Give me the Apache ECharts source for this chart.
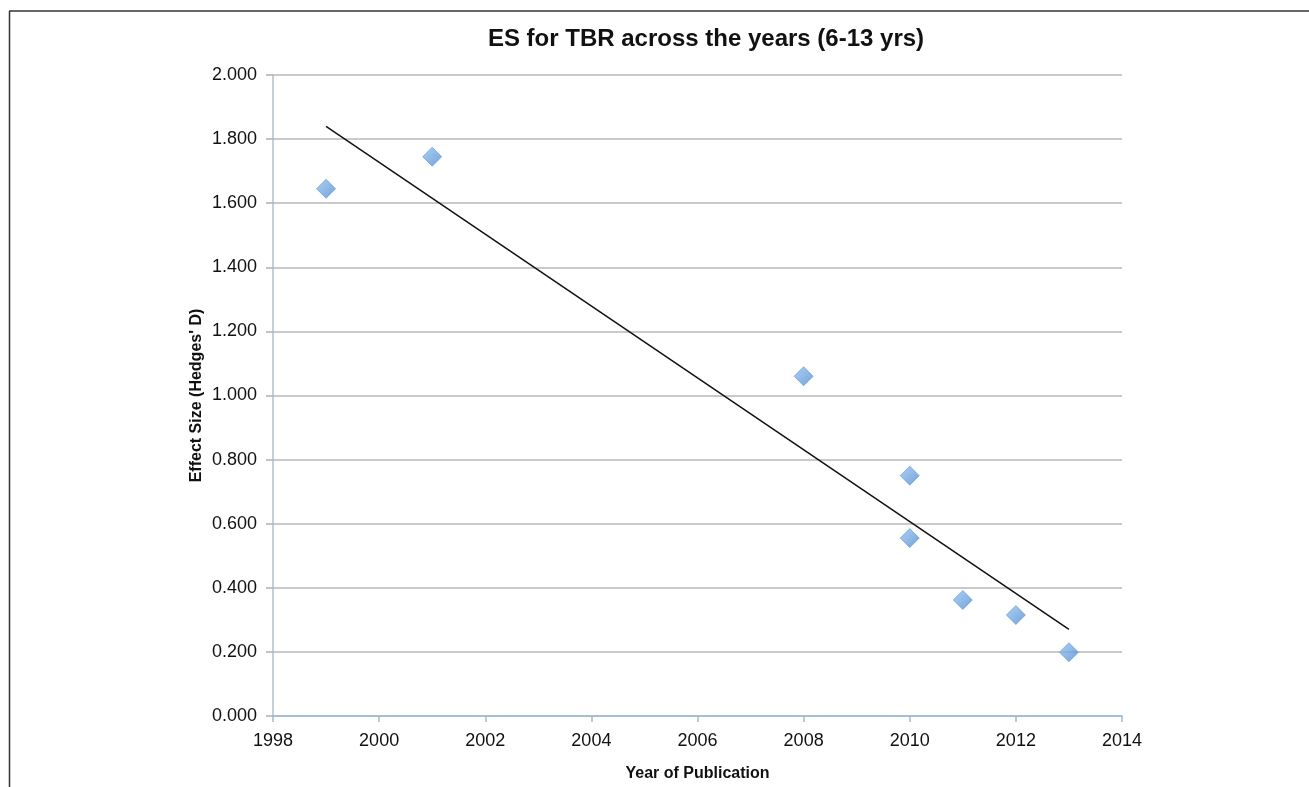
<!DOCTYPE html>
<html>
<head>
<meta charset="utf-8">
<script src="https://cdn.jsdelivr.net/npm/echarts@6/dist/echarts.min.js"></script>
<style>
html,body{margin:0;padding:0;background:#fff;}
#c{width:1309px;height:787px;}
</style>
</head>
<body>
<div id="c"></div>
<script>
var years = [1999, 2001, 2008, 2010, 2010, 2011, 2012, 2013];
var effectSizes = [1.645, 1.745, 1.060, 0.750, 0.555, 0.362, 0.315, 0.199];
var trendYears = [1999, 2013];
var trendValues = [1.84, 0.27];
var xTicks = [1998, 2000, 2002, 2004, 2006, 2008, 2010, 2012, 2014];
var yTicks = [0, 0.2, 0.4, 0.6, 0.8, 1.0, 1.2, 1.4, 1.6, 1.8, 2.0];

var points = years.map(function (y, i) { return [y, effectSizes[i]]; });
var trend = trendYears.map(function (y, i) { return [y, trendValues[i]]; });

var chart = echarts.init(document.getElementById('c'), null, {renderer: 'canvas'});
var font = '"Liberation Sans", Arial, sans-serif';
chart.setOption({
  backgroundColor: '#ffffff',
  animation: false,
  title: {
    text: 'ES for TBR across the years (6-13 yrs)',
    left: 701,
    top: 22,
    textAlign: 'center',
    textStyle: {fontFamily: font, fontSize: 24, fontWeight: 'bold', color: '#111'}
  },
  grid: {left: 273, right: 187, top: 75, bottom: 69, containLabel: false},
  xAxis: {
    type: 'value',
    min: xTicks[0],
    max: xTicks[xTicks.length - 1],
    interval: 2,
    name: 'Year of Publication',
    nameLocation: 'middle',
    nameGap: 50,
    nameTextStyle: {fontFamily: font, fontSize: 16, fontWeight: 'bold', color: '#111'},
    axisLine: {show: true, lineStyle: {color: '#9dbbd3', width: 1.5}},
    axisTick: {show: true, length: 6, lineStyle: {color: '#9dbbd3', width: 1.5}},
    axisLabel: {fontFamily: font, fontSize: 18, color: '#111', margin: 16,
      formatter: function (v) { return String(v); }},
    splitLine: {show: false}
  },
  yAxis: {
    type: 'value',
    min: yTicks[0],
    max: yTicks[yTicks.length - 1],
    interval: 0.2,
    name: "Effect Size (Hedges' D)",
    nameLocation: 'middle',
    nameGap: 68,
    nameMoveOverlap: false,
    nameTextStyle: {fontFamily: font, fontSize: 16, fontWeight: 'bold', color: '#111'},
    axisLine: {show: true, lineStyle: {color: '#b3c0cc', width: 1.5}},
    axisTick: {show: true, length: 7, lineStyle: {color: '#b0b0b0', width: 1.5}},
    axisLabel: {fontFamily: font, fontSize: 18, color: '#111', margin: 16,
      formatter: function (v) { return v.toFixed(3); }},
    splitLine: {show: true, lineStyle: {color: '#b9b9b9', width: 1.5}}
  },
  series: [
    {
      type: 'line',
      data: trend,
      showSymbol: false,
      symbol: 'none',
      lineStyle: {color: '#111', width: 1.5},
      z: 3
    },
    {
      type: 'scatter',
      data: points,
      symbol: 'diamond',
      symbolSize: 19,
      itemStyle: {
        color: new echarts.graphic.LinearGradient(0, 0, 1, 1, [
          {offset: 0, color: '#98c4ef'},
          {offset: 1, color: '#4f8cd2'}
        ]),
        borderColor: '#5f95d2',
        borderWidth: 0.8
      },
      z: 4
    }
  ],
  graphic: [
    {type: 'line', shape: {x1: 9, y1: 11, x2: 1309, y2: 11}, style: {stroke: '#333', lineWidth: 1.5}},
    {type: 'line', shape: {x1: 9.5, y1: 11, x2: 9.5, y2: 787}, style: {stroke: '#333', lineWidth: 1.5}}
  ]
});
</script>
</body>
</html>
